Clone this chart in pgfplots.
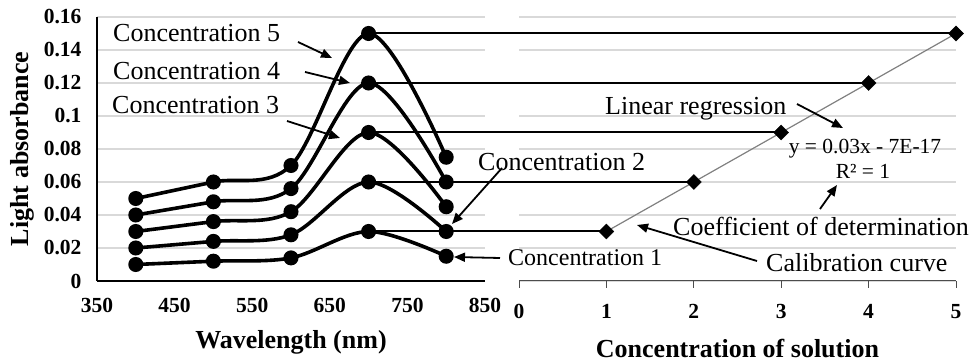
\documentclass[border=0pt]{standalone}
\usepackage{fontspec}
\setmainfont{Liberation Serif}
\usepackage{pgfplots}
\usepackage{pgfplotstable}
\pgfplotsset{compat=1.18}
\usetikzlibrary{arrows.meta}

\definecolor{gridgray}{HTML}{D9D9D9}
\definecolor{fitgray}{HTML}{808080}

% absorbance spectra of the five solutions
\pgfplotstableread{
wl  c1    c2    c3    c4    c5
400 0.010 0.020 0.030 0.040 0.050
500 0.012 0.024 0.036 0.048 0.060
600 0.014 0.028 0.042 0.056 0.070
700 0.030 0.060 0.090 0.120 0.150
800 0.015 0.030 0.045 0.060 0.075
}\spectra

% peak absorbance at 700 nm against concentration
\pgfplotstableread{
conc abs
1 0.03
2 0.06
3 0.09
4 0.12
5 0.15
}\calib

\newcommand{\annfont}{\fontsize{26}{30}\selectfont}

\begin{document}
\begin{tikzpicture}[x=1pt,y=1pt]
\useasboundingbox (0pt,0pt) rectangle (975pt,363pt);

\pgfplotsset{
  panel/.style={
    scale only axis, height=264pt, ymin=0, ymax=0.16,
    ytick={0,0.02,0.04,0.06,0.08,0.1,0.12,0.14,0.16},
    ymajorgrids, grid style={gridgray, line width=1.3pt},
    tick label style={font=\fontsize{21.5}{24}\selectfont\bfseries},
    label style={font=\fontsize{26}{30}\selectfont\bfseries},
    /pgf/number format/assume math mode=true,
    scaled y ticks=false,
  },
  spec/.style={black, line width=3.6pt, smooth, tension=0.55,
    mark=*, mark size=5.7pt, mark options={solid}},
}

% ---- left panel: spectra ----
\begin{axis}[panel, at={(97pt,82pt)}, anchor=south west, width=388pt,
  xmin=350, xmax=850, xtick={350,450,550,650,750,850},
  axis lines*=left, axis line style={black, line width=1.5pt},
  major tick length=0pt,
  yticklabel style={/pgf/number format/fixed, /pgf/number format/precision=2, xshift=-12pt},
  xticklabel style={yshift=-14pt},
  xlabel={Wavelength (nm)}, ylabel={Light absorbance},
  xlabel style={at={(axis description cs:0.5,-0.233)}, anchor=center},
  ylabel style={at={(axis description cs:-0.193,0.5)}, anchor=center},
  clip=false]
\addplot[spec] table[x=wl, y=c1] {\spectra};
\addplot[spec] table[x=wl, y=c2] {\spectra};
\addplot[spec] table[x=wl, y=c3] {\spectra};
\addplot[spec] table[x=wl, y=c4] {\spectra};
\addplot[spec] table[x=wl, y=c5] {\spectra};
\coordinate (P1) at (axis cs:700,0.03);
\coordinate (P2) at (axis cs:700,0.06);
\coordinate (P3) at (axis cs:700,0.09);
\coordinate (P4) at (axis cs:700,0.12);
\coordinate (P5) at (axis cs:700,0.15);
\end{axis}

% ---- right panel: calibration curve ----
\begin{axis}[panel, at={(519pt,82pt)}, anchor=south west, width=437pt,
  xmin=0, xmax=5, xtick={0,1,2,3,4,5},
  axis x line*=bottom, axis y line*=left,
  x axis line style={black!70, line width=1pt},
  y axis line style={draw=none},
  yticklabels={}, ytick style={draw=none},
  xtick style={black!70, line width=1pt},
  tick align=outside, major tick length=7pt,
  xticklabel style={yshift=-13pt},
  xlabel={Concentration of solution},
  xlabel style={at={(axis description cs:0.5,-0.254)}, anchor=center},
  clip=false]
\addplot[fitgray, line width=1.2pt] coordinates {(1,0.03) (5,0.15)};
\addplot[only marks, black, mark=square*, mark size=5.3pt,
  mark options={rotate=45}] table[x=conc, y=abs] {\calib};
\coordinate (Q1) at (axis cs:1,0.03);
\coordinate (Q2) at (axis cs:2,0.06);
\coordinate (Q3) at (axis cs:3,0.09);
\coordinate (Q4) at (axis cs:4,0.12);
\coordinate (Q5) at (axis cs:5,0.15);
\end{axis}

% peaks carried across to the calibration points
\foreach \i in {1,...,5} {\draw[black, line width=2pt] (P\i) -- (Q\i);}

% annotations
\begin{scope}[every node/.style={inner sep=0pt, anchor=base west, font=\annfont},
  arr/.style={black, line width=1.8pt, -{Triangle[length=11pt, width=9pt]}}]
\node at (113,321) {Concentration 5};
\node at (113,283) {Concentration 4};
\node at (112,249) {Concentration 3};
\node at (478,192) {Concentration 2};
\node[font=\fontsize{24}{28}\selectfont] at (508,97) {Concentration 1};
\node at (605,248) {Linear regression};
\node[anchor=base, font=\fontsize{21.5}{24}\selectfont] at (865,209) {y = 0.03x - 7E-17};
\node[anchor=base, font=\fontsize{21.5}{24}\selectfont] at (863,184) {R² = 1};
\node at (673,127) {Coefficient of determination};
\node at (766,91) {Calibration curve};
\draw[arr] (298,321) -- (332,305);
\draw[arr] (305,291) -- (350,280);
\draw[arr] (287,242) -- (340,225);
\draw[arr] (502,195) -- (452,139);
\draw[arr] (500,105) -- (454,106);
\draw[arr] (797,259) -- (843,235);
\draw[arr] (820,154) -- (837,178);
\draw[arr] (757,102) -- (637,138);
\end{scope}
\end{tikzpicture}
\end{document}
